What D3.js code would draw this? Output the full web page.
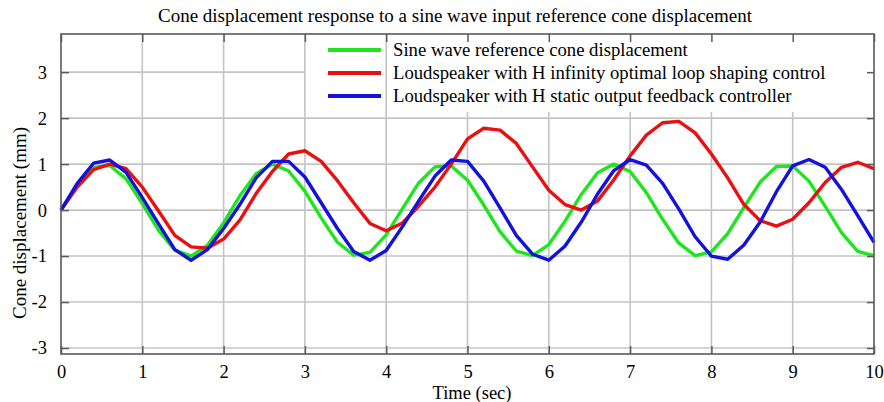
<!DOCTYPE html>
<html>
<head>
<meta charset="utf-8">
<script src="https://cdn.jsdelivr.net/npm/d3@7"></script>
<style>
  html, body { margin: 0; padding: 0; background: #fff; }
  svg { display: block; }
  text { font-family: "Liberation Serif", "Times New Roman", serif; fill: #000; }
</style>
</head>
<body>
<svg id="chart" width="884" height="402"></svg>
<script>
const time = d3.range(0, 51).map(i => +(i * 0.2).toFixed(1));
const reference = [0, 0.56, 0.93, 0.97, 0.68, 0.14, -0.44, -0.87, -1.00, -0.77,
  -0.28, 0.31, 0.79, 1.00, 0.85, 0.41, -0.17, -0.70, -0.98, -0.92,
  -0.54, 0.03, 0.59, 0.94, 0.96, 0.65, 0.11, -0.47, -0.89, -0.99,
  -0.75, -0.24, 0.34, 0.81, 1.00, 0.84, 0.38, -0.20, -0.72, -0.99,
  -0.91, -0.51, 0.06, 0.61, 0.95, 0.96, 0.63, 0.08, -0.49, -0.90, -0.99];
const hInfinity = [0, 0.50, 0.88, 1.00, 0.90, 0.50, -0.02, -0.55, -0.80, -0.83,
  -0.63, -0.22, 0.36, 0.84, 1.22, 1.29, 1.06, 0.64, 0.16, -0.29,
  -0.45, -0.28, 0.09, 0.50, 1.00, 1.55, 1.78, 1.74, 1.45, 0.94,
  0.43, 0.12, 0.00, 0.20, 0.66, 1.18, 1.63, 1.90, 1.93, 1.68,
  1.22, 0.70, 0.12, -0.23, -0.35, -0.20, 0.16, 0.60, 0.93, 1.04, 0.90];
const staticFeedback = [0, 0.58, 1.02, 1.09, 0.82, 0.27, -0.30, -0.86, -1.09, -0.86,
  -0.40, 0.12, 0.70, 1.06, 1.06, 0.72, 0.16, -0.40, -0.90, -1.09,
  -0.88, -0.36, 0.20, 0.74, 1.09, 1.06, 0.63, 0.05, -0.55, -0.96,
  -1.09, -0.78, -0.26, 0.35, 0.86, 1.10, 0.98, 0.58, 0.02, -0.58,
  -1.00, -1.07, -0.76, -0.26, 0.40, 0.96, 1.10, 0.93, 0.45, -0.12, -0.70];
const xTicks = [0, 1, 2, 3, 4, 5, 6, 7, 8, 9, 10];
const yTicks = [-3, -2, -1, 0, 1, 2, 3];
const seriesNames = [
  "Sine wave reference cone displacement",
  "Loudspeaker with H infinity optimal loop shaping control",
  "Loudspeaker with H static output feedback controller"
];
const seriesColors = ["#1ee61e", "#ea1010", "#1212dc"];
const titleText = "Cone displacement response to a sine wave input reference cone displacement";
const xLabel = "Time (sec)";
const yLabel = "Cone displacement (mm)";

// ---- layout ----
const svg = d3.select("#chart");
const L = 61, R = 874, T = 34, B = 354;
const x = d3.scaleLinear().domain([0, 10]).range([L, R]);
const y = d3.scaleLinear().domain([-3.13, 3.83]).range([B, T]);
const gridColor = "#c4c4c4", frameColor = "#5a5a5a";

// grid
const grid = svg.append("g");
grid.selectAll("line.gx").data(xTicks.slice(1, -1)).enter().append("line")
  .attr("x1", d => x(d)).attr("x2", d => x(d)).attr("y1", T).attr("y2", B)
  .attr("stroke", gridColor).attr("stroke-width", 1.6);
grid.selectAll("line.gy").data(yTicks).enter().append("line")
  .attr("x1", L).attr("x2", R).attr("y1", d => y(d)).attr("y2", d => y(d))
  .attr("stroke", gridColor).attr("stroke-width", 1.6);

// series
const seriesData = [reference, hInfinity, staticFeedback];
const line = d3.line().x((d, i) => x(time[i])).y(d => y(d));
seriesData.forEach((vals, k) => {
  svg.append("path").datum(vals)
    .attr("d", line)
    .attr("fill", "none")
    .attr("stroke", seriesColors[k])
    .attr("stroke-width", 3.4)
    .attr("stroke-linejoin", "round");
});

// legend box (covers grid)
const legX0 = x(3), legY1 = 112;
svg.append("rect").attr("x", legX0).attr("y", T).attr("width", R - legX0).attr("height", legY1 - T)
  .attr("fill", "#fff");
svg.append("line").attr("x1", legX0).attr("x2", legX0).attr("y1", T).attr("y2", legY1)
  .attr("stroke", gridColor).attr("stroke-width", 1.6);
svg.append("line").attr("x1", x(4)).attr("x2", x(4)).attr("y1", T).attr("y2", legY1)
  .attr("stroke", gridColor).attr("stroke-width", 1.6);
const legRows = [50, 73, 96];
seriesNames.forEach((name, k) => {
  svg.append("line").attr("x1", 328).attr("x2", 381).attr("y1", legRows[k]).attr("y2", legRows[k])
    .attr("stroke", seriesColors[k]).attr("stroke-width", 4);
  svg.append("text").attr("x", 393).attr("y", legRows[k] + 6)
    .attr("font-size", 18.7).text(name);
});

// frame
svg.append("rect").attr("x", L).attr("y", T).attr("width", R - L).attr("height", B - T)
  .attr("fill", "none").attr("stroke", frameColor).attr("stroke-width", 1.6);

// axes with inward ticks
const fmt = d => String(d);
const xAxisB = d3.axisBottom(x).tickValues(xTicks).tickSize(-8).tickPadding(11).tickFormat(fmt);
const gxb = svg.append("g").attr("transform", `translate(0,${B})`).call(xAxisB);
const xAxisT = d3.axisTop(x).tickValues(xTicks).tickSize(-8).tickFormat("");
const gxt = svg.append("g").attr("transform", `translate(0,${T})`).call(xAxisT);
const yAxisL = d3.axisLeft(y).tickValues(yTicks).tickSize(-8).tickPadding(14).tickFormat(fmt);
const gyl = svg.append("g").attr("transform", `translate(${L},0)`).call(yAxisL);
const yAxisR = d3.axisRight(y).tickValues(yTicks).tickSize(-7).tickFormat("");
const gyr = svg.append("g").attr("transform", `translate(${R},0)`).call(yAxisR);
[gxb, gxt, gyl, gyr].forEach(g => {
  g.select(".domain").remove();
  g.selectAll(".tick line").attr("stroke", frameColor).attr("stroke-width", 1.5);
  g.selectAll(".tick text").attr("font-family", "Liberation Serif, serif").attr("font-size", 18.5).attr("fill", "#000");
});

// titles
svg.append("text").attr("x", 455).attr("y", 22).attr("text-anchor", "middle")
  .attr("font-size", 19).text(titleText);
svg.append("text").attr("x", 472).attr("y", 399).attr("text-anchor", "middle")
  .attr("font-size", 18.5).text(xLabel);
svg.append("text").attr("transform", "translate(26,223) rotate(-90)").attr("text-anchor", "middle")
  .attr("font-size", 19).text(yLabel);
</script>
</body>
</html>
